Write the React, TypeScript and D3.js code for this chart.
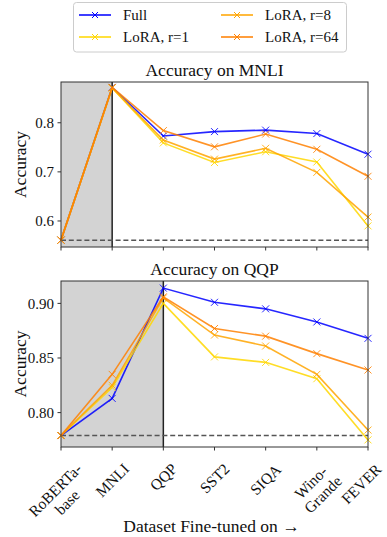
import React, { useEffect, useRef } from "react";
import * as d3 from "d3";

const categories = ["RoBERTa-\nbase", "MNLI", "QQP", "SST2", "SIQA", "Wino-\nGrande", "FEVER"];
const seriesNames = ["Full", "LoRA, r=1", "LoRA, r=8", "LoRA, r=64"];
const seriesColors = ["#0000ff", "#ffd700", "#ffa500", "#ff8000"];

const mnliFull = [0.561, 0.872, 0.773, 0.782, 0.785, 0.778, 0.736];
const mnliR1 = [0.561, 0.871, 0.759, 0.719, 0.741, 0.720, 0.590];
const mnliR8 = [0.561, 0.871, 0.765, 0.726, 0.748, 0.699, 0.608];
const mnliR64 = [0.561, 0.872, 0.784, 0.751, 0.777, 0.746, 0.691];
const mnliBaseline = 0.561;
const mnliTicks = [0.6, 0.7, 0.8];

const qqpFull = [0.779, 0.813, 0.914, 0.901, 0.895, 0.883, 0.868];
const qqpR1 = [0.779, 0.823, 0.900, 0.851, 0.846, 0.831, 0.775];
const qqpR8 = [0.779, 0.825, 0.905, 0.871, 0.861, 0.835, 0.784];
const qqpR64 = [0.779, 0.835, 0.906, 0.877, 0.870, 0.854, 0.839];
const qqpBaseline = 0.779;
const qqpTicks = [0.8, 0.85, 0.9];

const FONT = "'Liberation Serif', 'Times New Roman', serif";

export default function App() {
  const ref = useRef<SVGSVGElement | null>(null);

  useEffect(() => {
    const svg = d3.select(ref.current);
    svg.selectAll("*").remove();

    const left = 61, right = 368;
    const x = d3.scaleLinear().domain([0, categories.length - 1]).range([left, right]);

    const panels = [
      {
        title: "Accuracy on MNLI", top: 82, bottom: 247, domain: [0.547, 0.883],
        data: [mnliFull, mnliR1, mnliR8, mnliR64], baseline: mnliBaseline,
        ticks: mnliTicks, fmt: d3.format(".1f"), shade: 1, labels: false,
      },
      {
        title: "Accuracy on QQP", top: 281, bottom: 447, domain: [0.7685, 0.9205],
        data: [qqpFull, qqpR1, qqpR8, qqpR64], baseline: qqpBaseline,
        ticks: qqpTicks, fmt: d3.format(".2f"), shade: 2, labels: true,
      },
    ];

    panels.forEach((p) => {
      const y = d3.scaleLinear().domain(p.domain).range([p.bottom, p.top]);
      const g = svg.append("g");
      g.append("rect").attr("x", left).attr("y", p.top).attr("width", right - left)
        .attr("height", p.bottom - p.top).attr("fill", "white");
      g.append("rect").attr("x", x(0)).attr("y", p.top).attr("width", x(p.shade) - x(0))
        .attr("height", p.bottom - p.top).attr("fill", "#d3d3d3");
      g.append("line").attr("x1", x(p.shade)).attr("x2", x(p.shade))
        .attr("y1", p.top).attr("y2", p.bottom).attr("stroke", "#222").attr("stroke-width", 1.5);
      g.append("line").attr("x1", left).attr("x2", right)
        .attr("y1", y(p.baseline)).attr("y2", y(p.baseline))
        .attr("stroke", "#555").attr("stroke-width", 1.5).attr("stroke-dasharray", "5,2.8");

      const clip = "clip" + p.top;
      svg.append("clipPath").attr("id", clip).append("rect")
        .attr("x", left - 6).attr("y", p.top).attr("width", right - left + 12).attr("height", p.bottom - p.top);

      const line = d3.line<number>().x((_, i) => x(i)).y((d) => y(d));
      const sg = g.append("g").attr("clip-path", `url(#${clip})`);
      p.data.forEach((vals, si) => {
        const c = seriesColors[si];
        sg.append("path").attr("d", line(vals)).attr("fill", "none").attr("stroke", c)
          .attr("stroke-width", 1.6).attr("stroke-opacity", 0.85);
        vals.forEach((v, i) => {
          const cx = x(i), cy = y(v), s = 3.5;
          sg.append("path").attr("d", `M${cx - s},${cy - s}L${cx + s},${cy + s}M${cx - s},${cy + s}L${cx + s},${cy - s}`)
            .attr("stroke", c).attr("stroke-width", 1).attr("stroke-opacity", 0.85);
        });
      });

      // frame
      g.append("rect").attr("x", left).attr("y", p.top).attr("width", right - left)
        .attr("height", p.bottom - p.top).attr("fill", "none").attr("stroke", "#333").attr("stroke-width", 1);

      // y ticks
      p.ticks.forEach((t) => {
        g.append("line").attr("x1", left - 3.5).attr("x2", left).attr("y1", y(t)).attr("y2", y(t))
          .attr("stroke", "#333").attr("stroke-width", 1);
        g.append("text").attr("x", left - 7).attr("y", y(t)).attr("dy", "0.35em")
          .attr("text-anchor", "end").attr("font-family", FONT).attr("font-size", 15)
          .attr("fill", "#111").text(p.fmt(t));
      });
      // x ticks
      categories.forEach((_, i) => {
        g.append("line").attr("x1", x(i)).attr("x2", x(i)).attr("y1", p.bottom).attr("y2", p.bottom + 3.5)
          .attr("stroke", "#333").attr("stroke-width", 1);
      });

      g.append("text").attr("x", (left + right) / 2).attr("y", p.top - 6.5).attr("text-anchor", "middle")
        .attr("font-family", FONT).attr("font-size", 17.5).attr("fill", "#111").text(p.title);
      g.append("text").attr("transform", `translate(25.5,${(p.top + p.bottom) / 2}) rotate(-90)`)
        .attr("text-anchor", "middle").attr("font-family", FONT).attr("font-size", 17.5)
        .attr("fill", "#111").text("Accuracy");

      if (p.labels) {
        categories.forEach((cat, i) => {
          const lines = cat.split("\n");
          const t = g.append("text").attr("font-family", FONT).attr("font-size", 15.5)
            .attr("fill", "#111").attr("text-anchor", "middle");
          lines.forEach((ln, li) => {
            t.append("tspan").attr("x", 0).attr("dy", li === 0 ? 0 : "1.1em").text(ln);
          });
          const bb = (t.node() as SVGTextElement).getBBox();
          const sz = (bb.width + bb.height) / Math.SQRT2;
          let cx = x(i);
          if (cx + sz / 2 > 385) cx = 385 - sz / 2;
          const cy = p.bottom + 13 + sz / 2;
          const bcx = bb.x + bb.width / 2, bcy = bb.y + bb.height / 2;
          t.attr("transform", `translate(${cx},${cy}) rotate(-45) translate(${-bcx},${-bcy})`);
        });
        g.append("text").attr("x", (left + right) / 2 - 3).attr("y", 532).attr("text-anchor", "middle")
          .attr("font-family", FONT).attr("font-size", 17.5).attr("fill", "#111")
          .text("Dataset Fine-tuned on \u2192");
      }
    });

    // legend
    const lg = svg.append("g");
    lg.append("rect").attr("x", 73.5).attr("y", 2.5).attr("width", 273).attr("height", 49.5)
      .attr("rx", 3).attr("fill", "white").attr("stroke", "#ccc").attr("stroke-width", 1);
    const pos = [[79, 15], [79, 37], [221, 15], [221, 37]];
    seriesNames.forEach((name, i) => {
      const [lx, ly] = pos[i];
      const c = seriesColors[i];
      lg.append("line").attr("x1", lx).attr("x2", lx + 32).attr("y1", ly).attr("y2", ly)
        .attr("stroke", c).attr("stroke-width", 1.8).attr("stroke-opacity", 0.85);
      const mx = lx + 16, s = 3;
      lg.append("path").attr("d", `M${mx - s},${ly - s}L${mx + s},${ly + s}M${mx - s},${ly + s}L${mx + s},${ly - s}`)
        .attr("stroke", c).attr("stroke-width", 1);
      lg.append("text").attr("x", lx + 44).attr("y", ly).attr("dy", "0.35em")
        .attr("font-family", FONT).attr("font-size", 15).attr("fill", "#111").text(name);
    });
  }, []);

  return (
    <svg ref={ref} width={387} height={537}
      style={{ position: "absolute", left: 0, top: 0, background: "white" }} />
  );
}
